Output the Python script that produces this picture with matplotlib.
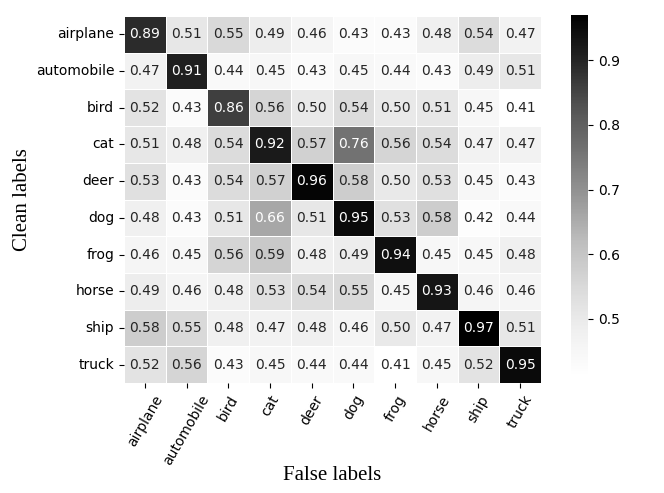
import matplotlib
matplotlib.use("Agg")
import matplotlib.pyplot as plt
import seaborn as sns
import numpy as np

classes = ["airplane", "automobile", "bird", "cat", "deer", "dog", "frog", "horse", "ship", "truck"]
row_airplane   = [0.89, 0.51, 0.55, 0.49, 0.46, 0.43, 0.43, 0.48, 0.54, 0.47]
row_automobile = [0.47, 0.91, 0.44, 0.45, 0.43, 0.45, 0.44, 0.43, 0.49, 0.51]
row_bird       = [0.52, 0.43, 0.86, 0.56, 0.50, 0.54, 0.50, 0.51, 0.45, 0.41]
row_cat        = [0.51, 0.48, 0.54, 0.92, 0.57, 0.76, 0.56, 0.54, 0.47, 0.47]
row_deer       = [0.53, 0.43, 0.54, 0.57, 0.96, 0.58, 0.50, 0.53, 0.45, 0.43]
row_dog        = [0.48, 0.43, 0.51, 0.66, 0.51, 0.95, 0.53, 0.58, 0.42, 0.44]
row_frog       = [0.46, 0.45, 0.56, 0.59, 0.48, 0.49, 0.94, 0.45, 0.45, 0.48]
row_horse      = [0.49, 0.46, 0.48, 0.53, 0.54, 0.55, 0.45, 0.93, 0.46, 0.46]
row_ship       = [0.58, 0.55, 0.48, 0.47, 0.48, 0.46, 0.50, 0.47, 0.97, 0.51]
row_truck      = [0.52, 0.56, 0.43, 0.45, 0.44, 0.44, 0.41, 0.45, 0.52, 0.95]

data = np.array([row_airplane, row_automobile, row_bird, row_cat, row_deer,
                 row_dog, row_frog, row_horse, row_ship, row_truck])

fig = plt.figure(figsize=(6.64, 4.93), dpi=100)
ax = fig.add_axes([124/664, 1 - 383/493, 417/664, 367/493])
cax = fig.add_axes([571/664, 1 - 377/493, 17/664, 362/493])

sns.heatmap(data, ax=ax, cbar_ax=cax, cmap="Greys", annot=True, fmt=".2f",
            annot_kws={"size": 10}, linewidths=0.5, linecolor="white",
            xticklabels=classes, yticklabels=classes)

ax.set_xticklabels(classes, rotation=60, fontsize=10)
ax.set_yticklabels(classes, rotation=0, fontsize=10)
ax.set_xlabel("False labels", family="Liberation Serif", fontsize=15, labelpad=-1)
ax.set_ylabel("Clean labels", family="Liberation Serif", fontsize=15, labelpad=2.5)
cax.tick_params(labelsize=10)
for sp in cax.spines.values():
    sp.set_visible(False)

fig.savefig("out.png", dpi=100)
